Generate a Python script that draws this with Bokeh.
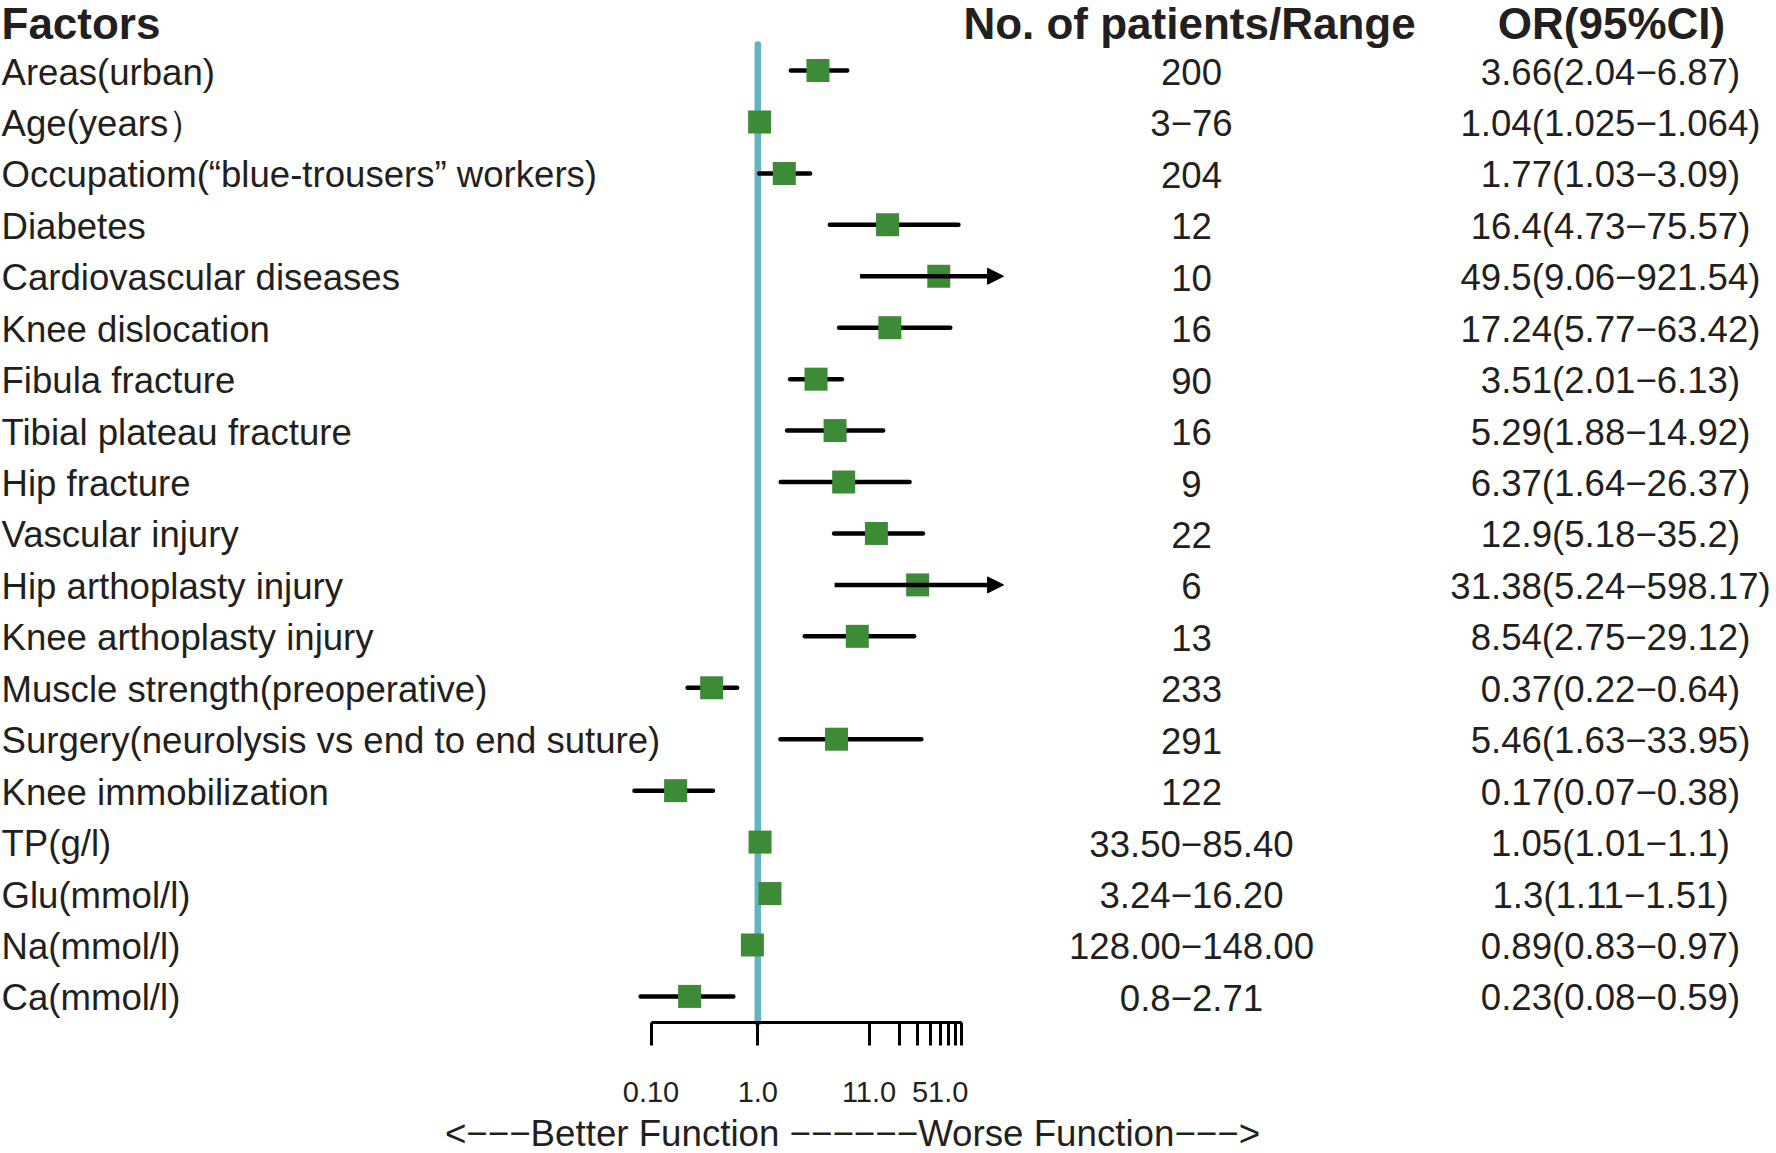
import math
from bokeh.plotting import figure
from bokeh.models import (Range1d, LinearScale, LogAxis, FixedTicker, ColumnDataSource,
                          Arrow, NormalHead)
from bokeh.core.properties import value
from bokeh.embed import file_html
from bokeh.resources import INLINE

# ---------------- data ----------------
factors = ["Areas(urban)", "Age(years\uff09", "Occupatiom(\u201cblue-trousers\u201d workers)",
           "Diabetes", "Cardiovascular diseases", "Knee dislocation", "Fibula fracture",
           "Tibial plateau fracture", "Hip fracture", "Vascular injury",
           "Hip arthoplasty  injury", "Knee arthoplasty  injury",
           "Muscle strength(preoperative)", "Surgery(neurolysis vs end to end suture)",
           "Knee immobilization", "TP(g/l)", "Glu(mmol/l)", "Na(mmol/l)", "Ca(mmol/l)"]
patients = ["200", "3\u221276", "204", "12", "10", "16", "90", "16", "9", "22", "6", "13",
            "233", "291", "122", "33.50\u221285.40", "3.24\u221216.20",
            "128.00\u2212148.00", "0.8\u22122.71"]
odds_ratio = [3.66, 1.04, 1.77, 16.4, 49.5, 17.24, 3.51, 5.29, 6.37, 12.9, 31.38, 8.54,
              0.37, 5.46, 0.17, 1.05, 1.3, 0.89, 0.23]
ci_low = [2.04, 1.025, 1.03, 4.73, 9.06, 5.77, 2.01, 1.88, 1.64, 5.18, 5.24, 2.75,
          0.22, 1.63, 0.07, 1.01, 1.11, 0.83, 0.08]
ci_high = [6.87, 1.064, 3.09, 75.57, 921.54, 63.42, 6.13, 14.92, 26.37, 35.2, 598.17, 29.12,
           0.64, 33.95, 0.38, 1.1, 1.51, 0.97, 0.59]
clip_high = 200
ref_value = 1.0
tick_values = [0.1, 1, 11, 21, 31, 41, 51, 61, 71, 81]
tick_labels = {0.1: "0.10", 1: "1.0", 11: "11.0", 51: "51.0"}
headers = ["Factors", "No. of patients/Range", "OR(95%CI)"]
footer = "<\u2212\u2212\u2212Better Function \u2212\u2212\u2212\u2212\u2212\u2212Worse Function\u2212\u2212\u2212>"

or_text = [f"{o}({l}\u2212{h})" for o, l, h in zip(odds_ratio, ci_low, ci_high)]

# ---------------- layout ----------------
W, H = 1776, 1153
X0, DEC = 650.5, 106.8          # pixel of 0.1 and pixels per decade
ROW0, ROWH = 18.56, 51.44       # pixel of row 0 and row pitch
TXT = "#231f20"
GREEN = "#3d8a37"
TEAL = "#62b4c1"
SANS = "Liberation Sans"


def x_at(px):
    return 0.1 * 10 ** ((px - X0) / DEC)


def row_at(py):
    return (py - ROW0) / ROWH


p = figure(width=W, height=H, x_axis_type="log",
           x_range=Range1d(x_at(0), x_at(W)), y_range=Range1d(row_at(H), row_at(0)),
           x_axis_location=None, y_axis_location=None, min_border=0,
           output_backend="svg", toolbar_location=None, outline_line_color=None)
p.styles = {"position": "absolute", "left": "0px", "top": "0px"}
p.xgrid.grid_line_color = None
p.ygrid.grid_line_color = None
p.extra_x_ranges = {"px": Range1d(0, W)}
p.extra_x_scales = {"px": LinearScale()}

n = len(factors)
rows = list(range(1, n + 1))
hi_c = [min(h, clip_high) for h in ci_high]
clipped = [h > clip_high for h in ci_high]

src = ColumnDataSource(dict(y=rows, orv=odds_ratio, lo=ci_low, hi=hi_c))
src_ci = ColumnDataSource(dict(y=[r for r, c in zip(rows, clipped) if not c],
                               lo=[v for v, c in zip(ci_low, clipped) if not c],
                               hi=[v for v, c in zip(hi_c, clipped) if not c]))
src_ar = ColumnDataSource(dict(y=[r for r, c in zip(rows, clipped) if c],
                               lo=[v for v, c in zip(ci_low, clipped) if c],
                               hi=[v for v, c in zip(hi_c, clipped) if c]))

# reference line
p.segment(x0=[ref_value], x1=[ref_value], y0=[row_at(44)], y1=[row_at(1022)],
          line_color=TEAL, line_width=6.5, line_cap="round")

# confidence intervals
p.segment(x0="lo", x1="hi", y0="y", y1="y", source=src_ci, line_color="black",
          line_width=4.5, line_cap="round")
p.add_layout(Arrow(x_start="lo", y_start="y", x_end="hi", y_end="y", source=src_ar,
                   line_color="black", line_width=4.5,
                   end=NormalHead(size=16, fill_color="black", line_color="black", line_width=1)))

# point estimates
p.scatter(x="orv", y="y", source=src, marker="square", size=23,
          fill_color=GREEN, line_color=None)

# axis
ax = LogAxis(ticker=FixedTicker(ticks=tick_values),
             bounds=(tick_values[0], tick_values[-1]),
             fixed_location=row_at(1022),
             major_label_overrides={float(t): tick_labels.get(t, "") for t in tick_values},
             axis_line_width=3, axis_line_color="black",
             major_tick_line_width=3, major_tick_line_color="black",
             major_tick_out=23, major_tick_in=0,
             minor_tick_out=0, minor_tick_in=0, minor_tick_line_color=None,
             major_label_standoff=36,
             major_label_text_font=SANS, major_label_text_font_size="29px",
             major_label_text_color=TXT)
p.add_layout(ax, "below")

# text columns
body = dict(x_range_name="px", text_font=value(SANS), text_font_size="36.6px",
            text_baseline="middle", text_color=TXT, y_offset=1.5)
p.text(x=[1] * n, y=rows, text=factors, text_align="left", **body)
p.text(x=[1191] * n, y=rows, text=patients, text_align="center", **body)
p.text(x=[1610] * n, y=rows, text=or_text, text_align="center", **body)

head = dict(x_range_name="px", text_font=value(SANS), text_font_size="44px",
            text_font_style="bold", text_baseline="middle", text_color=TXT, y_offset=4)
p.text(x=[1], y=[0], text=[headers[0]], text_align="left", **head)
p.text(x=[1189], y=[0], text=[headers[1]], text_align="center", **head)
p.text(x=[1611], y=[0], text=[headers[2]], text_align="center", **head)

p.text(x=[852], y=[row_at(1133)], text=[footer], x_range_name="px",
       text_font=value(SANS), text_font_size="36.7px", text_align="center",
       text_baseline="middle", text_color=TXT)

open("out.html", "w").write(file_html(p, INLINE))
